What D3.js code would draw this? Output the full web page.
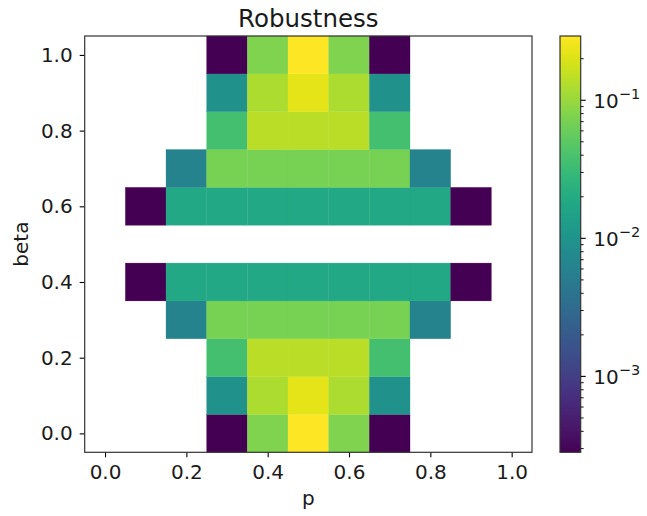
<!DOCTYPE html>
<html>
<head>
<meta charset="utf-8">
<script src="https://cdn.jsdelivr.net/npm/d3@7"></script>
<style>
  html, body { margin: 0; padding: 0; background: #fff; }
  svg { display: block; font-family: "DejaVu Sans", sans-serif; }
</style>
</head>
<body>
<svg id="chart" width="647" height="516"></svg>
<script>
// Grid coordinates
const pValues = [0.0, 0.1, 0.2, 0.3, 0.4, 0.5, 0.6, 0.7, 0.8, 0.9, 1.0];
const betaValues = [0.0, 0.1, 0.2, 0.3, 0.4, 0.5, 0.6, 0.7, 0.8, 0.9, 1.0];

// Robustness per (beta row, p column); null = no value
const LO = 2.82e-4;
const robustness = [
  [null, null, null, LO, 0.0764, 0.292, 0.0764, LO, null, null, null],
  [null, null, null, 0.0091, 0.1233, 0.218, 0.1233, 0.0091, null, null, null],
  [null, null, null, 0.0363, 0.1406, 0.1406, 0.1406, 0.0363, null, null, null],
  [null, null, 0.0063, 0.0703, 0.0703, 0.0703, 0.0703, 0.0703, 0.0063, null, null],
  [null, LO, 0.0182, 0.0182, 0.0182, 0.0182, 0.0182, 0.0182, 0.0182, LO, null],
  [null, null, null, null, null, null, null, null, null, null, null],
  [null, LO, 0.0182, 0.0182, 0.0182, 0.0182, 0.0182, 0.0182, 0.0182, LO, null],
  [null, null, 0.0063, 0.0703, 0.0703, 0.0703, 0.0703, 0.0703, 0.0063, null, null],
  [null, null, null, 0.0363, 0.1406, 0.1406, 0.1406, 0.0363, null, null, null],
  [null, null, null, 0.0091, 0.1233, 0.218, 0.1233, 0.0091, null, null, null],
  [null, null, null, LO, 0.0764, 0.292, 0.0764, LO, null, null, null]
];

const axisTicks = [0.0, 0.2, 0.4, 0.6, 0.8, 1.0];
const colorbarMajor = [1e-3, 1e-2, 1e-1];
const colorbarExponents = ["−3", "−2", "−1"];

const svg = d3.select("#chart");
const plot = { left: 84.7, right: 532, top: 36, bottom: 452.3 };
const cbar = { left: 560, right: 580.7 };

const x = d3.scaleLinear().domain([-0.05, 1.05]).range([plot.left, plot.right]);
const y = d3.scaleLinear().domain([-0.05, 1.05]).range([plot.bottom, plot.top]);

const cells = [];
robustness.forEach((row, i) => row.forEach((v, j) => {
  if (v != null) cells.push({ p: pValues[j], beta: betaValues[i], v });
}));
const ext = d3.extent(cells, d => d.v);
const logT = d3.scaleLog().domain(ext).range([0, 1]);
const color = v => d3.interpolateViridis(logT(v));

const dp = 0.1, db = 0.1;
svg.append("g").selectAll("rect").data(cells).join("rect")
  .attr("x", d => x(d.p - dp / 2))
  .attr("y", d => y(d.beta + db / 2))
  .attr("width", d => x(d.p + dp / 2) - x(d.p - dp / 2))
  .attr("height", d => y(d.beta - db / 2) - y(d.beta + db / 2))
  .attr("fill", d => color(d.v))
  .attr("stroke", d => color(d.v))
  .attr("stroke-width", 0.3);

// Axes
const fmt = d3.format(".1f");
const xAxis = d3.axisBottom(x).tickValues(axisTicks).tickFormat(fmt).tickSize(5).tickPadding(8);
const yAxis = d3.axisLeft(y).tickValues(axisTicks).tickFormat(fmt).tickSize(5).tickPadding(7);

const gx = svg.append("g").attr("transform", `translate(0,${plot.bottom})`).call(xAxis);
const gy = svg.append("g").attr("transform", `translate(${plot.left},0)`).call(yAxis);
[gx, gy].forEach(g => {
  g.select(".domain").remove();
  g.selectAll(".tick line").attr("stroke", "#000").attr("stroke-width", 1.1);
  g.selectAll(".tick text").attr("font-size", 20).attr("fill", "#1a1a1a")
    .attr("font-family", "DejaVu Sans, sans-serif");
});

// Frame
svg.append("rect")
  .attr("x", plot.left).attr("y", plot.top)
  .attr("width", plot.right - plot.left).attr("height", plot.bottom - plot.top)
  .attr("fill", "none").attr("stroke", "#333").attr("stroke-width", 1.2);

// Titles
svg.append("text").attr("x", (plot.left + plot.right) / 2).attr("y", 26.5)
  .attr("text-anchor", "middle").attr("font-size", 24.5).attr("fill", "#1a1a1a")
  .text("Robustness");
svg.append("text").attr("x", (plot.left + plot.right) / 2).attr("y", 505)
  .attr("text-anchor", "middle").attr("font-size", 20).attr("fill", "#1a1a1a")
  .text("p");
svg.append("text")
  .attr("transform", `translate(28,${(plot.top + plot.bottom) / 2}) rotate(-90)`)
  .attr("text-anchor", "middle").attr("font-size", 20).attr("fill", "#1a1a1a")
  .text("beta");

// Colorbar
const cy = d3.scaleLog().domain(ext).range([plot.bottom, plot.top]);
const defs = svg.append("defs");
const grad = defs.append("linearGradient").attr("id", "viridis-grad")
  .attr("x1", 0).attr("y1", 1).attr("x2", 0).attr("y2", 0);
d3.range(0, 1.0001, 0.02).forEach(t => {
  grad.append("stop").attr("offset", t).attr("stop-color", d3.interpolateViridis(t));
});
svg.append("rect")
  .attr("x", cbar.left).attr("y", plot.top)
  .attr("width", cbar.right - cbar.left).attr("height", plot.bottom - plot.top)
  .attr("fill", "url(#viridis-grad)")
  .attr("stroke", "#333").attr("stroke-width", 1.2);

const minor = [];
for (let e = -4; e <= 0; e++) {
  for (let m = 2; m <= 9; m++) {
    const v = m * Math.pow(10, e);
    if (v >= ext[0] && v <= ext[1]) minor.push(v);
  }
}
const cg = svg.append("g").attr("transform", `translate(${cbar.right},0)`);
cg.selectAll("line.minor").data(minor).join("line")
  .attr("class", "minor")
  .attr("x1", 0).attr("x2", 3).attr("y1", d => cy(d)).attr("y2", d => cy(d))
  .attr("stroke", "#000").attr("stroke-width", 0.9);
cg.selectAll("line.major").data(colorbarMajor).join("line")
  .attr("class", "major")
  .attr("x1", 0).attr("x2", 5).attr("y1", d => cy(d)).attr("y2", d => cy(d))
  .attr("stroke", "#000").attr("stroke-width", 1.1);
const lab = cg.selectAll("text.major").data(colorbarMajor).join("text")
  .attr("class", "major")
  .attr("x", 12.6).attr("y", d => cy(d) + 8)
  .attr("font-size", 20).attr("fill", "#1a1a1a");
lab.append("tspan").text("10");
lab.append("tspan").attr("dy", -9).attr("font-size", 14.5)
  .text((d, i) => colorbarExponents[i]);
</script>
</body>
</html>
